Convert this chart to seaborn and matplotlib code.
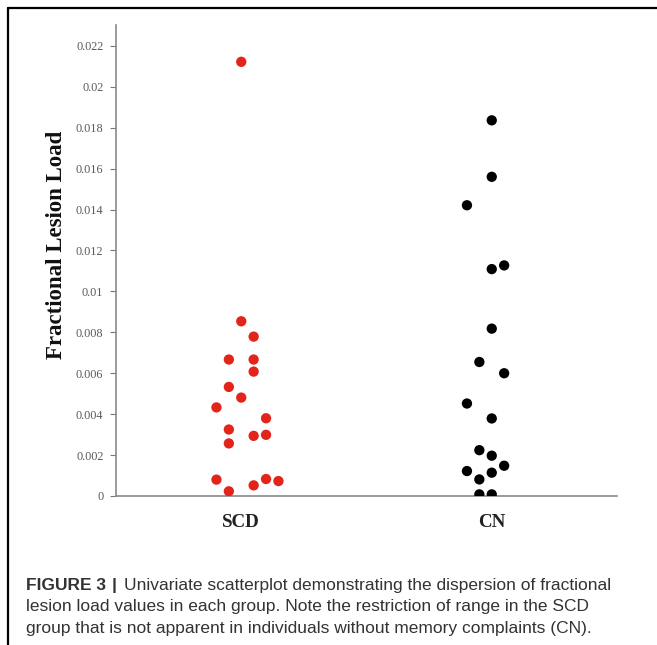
import matplotlib
matplotlib.use("Agg")
import matplotlib.pyplot as plt
import seaborn as sns
import pandas as pd
from matplotlib.lines import Line2D

# ---- data ----
groups = ["SCD", "CN"]
scd_values = [0.02122, 0.00854, 0.00779, 0.00667, 0.00667, 0.00608, 0.00533,
              0.00481, 0.00433, 0.00380, 0.00325, 0.00294, 0.00299, 0.00257,
              0.00080, 0.00052, 0.00083, 0.00073, 0.00023]
cn_values = [0.01836, 0.01560, 0.01421, 0.01109, 0.01127, 0.00818, 0.00655,
             0.00600, 0.00452, 0.00379, 0.00224, 0.00197, 0.00148, 0.00122,
             0.00114, 0.00081, 0.00008, 0.00008]
# horizontal dodge slot of each point (the chart spreads overlapping dots sideways)
scd_slots = [0, 0, 1, -1, 1, 1, -1, 0, -2, 2, -1, 1, 2, -1, -2, 1, 2, 3, -1]
cn_slots = [0, 0, -2, 0, 1, 0, -1, 1, -2, 0, -1, 0, 1, -2, 0, -1, -1, 0]
y_ticks = [0, 0.002, 0.004, 0.006, 0.008, 0.01, 0.012, 0.014, 0.016, 0.018, 0.02, 0.022]
y_tick_labels = ["0", "0.002", "0.004", "0.006", "0.008", "0.01", "0.012",
                 "0.014", "0.016", "0.018", "0.02", "0.022"]

slot_width = 0.0495
rows = []
for gi, (g, vals, slots) in enumerate([("SCD", scd_values, scd_slots), ("CN", cn_values, cn_slots)]):
    for v, s in zip(vals, slots):
        rows.append({"group": g, "value": v, "x": gi + s * slot_width})
df = pd.DataFrame(rows)

sns.set_style("white")
plt.rcParams["font.family"] = ["Liberation Serif", "DejaVu Serif"]

W, H = 657, 645
fig = plt.figure(figsize=(W / 100, H / 100), dpi=100)
ax = fig.add_axes([116 / W, 1 - 496 / H, (617 - 116) / W, (496 - 25) / H])

sns.scatterplot(data=df, x="x", y="value", hue="group",
                palette={"SCD": "#e3241b", "CN": "#000000"},
                s=55, edgecolor="none", legend=False, ax=ax, zorder=3)

ax.set_xlim(-0.5, 1.5)
ax.set_ylim(0, 0.02302)
ax.set_yticks(y_ticks)
ax.set_yticklabels(y_tick_labels)
ax.set_xticks([0, 1])
ax.set_xticklabels(groups, fontsize=13.7, fontweight="bold", color="#222222")
ax.set_xticks([-0.5, 0.5, 1.5], minor=True)
ax.tick_params(axis="x", which="major", length=0, pad=13)
ax.tick_params(axis="x", which="minor", length=4, width=1, color="#777777", direction="out")
ax.tick_params(axis="y", which="major", length=4, width=0.8, color="#777777",
               direction="out", labelsize=8.8, labelcolor="#5a5a5a", pad=5)
ax.tick_params(left=True, bottom=True)
for side in ["top", "right"]:
    ax.spines[side].set_visible(False)
for side in ["left", "bottom"]:
    ax.spines[side].set_color("#8a8a8a")
    ax.spines[side].set_linewidth(1.2)
ax.set_xlabel("")
ax.set_ylabel("Fractional Lesion Load", fontsize=16.5, fontweight="bold", color="#111111")
ax.yaxis.label.set_va("center")
ax.yaxis.set_label_coords((57 - 116) / 501, (496 - 244.5) / 471)

# frame lines (top and left)
fig.add_artist(Line2D([8 / W, 8 / W], [0, 1 - 8 / H], transform=fig.transFigure, color="black", lw=1.6))
fig.add_artist(Line2D([8 / W, 1], [1 - 8 / H, 1 - 8 / H], transform=fig.transFigure, color="black", lw=1.6))

# caption
cap_font = ["Liberation Sans", "DejaVu Sans"]
cap_size = 12.5
cap_color = "#333333"
x0 = 26 / W
t_bold = fig.text(x0, 1 - 590 / H, "FIGURE 3", fontsize=cap_size, fontweight="bold",
                  family=cap_font, color=cap_color, va="baseline")
fig.canvas.draw()
bb = t_bold.get_window_extent(renderer=fig.canvas.get_renderer())
t_bar = fig.text(bb.x1 / W + 6 / W, 1 - 590 / H, "|", fontsize=cap_size, fontweight="bold",
                 family=cap_font, color=cap_color, va="baseline")
fig.canvas.draw()
bb2 = t_bar.get_window_extent(renderer=fig.canvas.get_renderer())
fig.text(bb2.x1 / W + 7 / W, 1 - 590 / H,
         "Univariate scatterplot demonstrating the dispersion of fractional",
         fontsize=cap_size, family=cap_font, color=cap_color, va="baseline")
fig.text(x0, 1 - 611.5 / H,
         "lesion load values in each group. Note the restriction of range in the SCD",
         fontsize=cap_size, family=cap_font, color=cap_color, va="baseline")
fig.text(x0, 1 - 633 / H,
         "group that is not apparent in individuals without memory complaints (CN).",
         fontsize=cap_size, family=cap_font, color=cap_color, va="baseline")

fig.savefig("out.png", dpi=100)
